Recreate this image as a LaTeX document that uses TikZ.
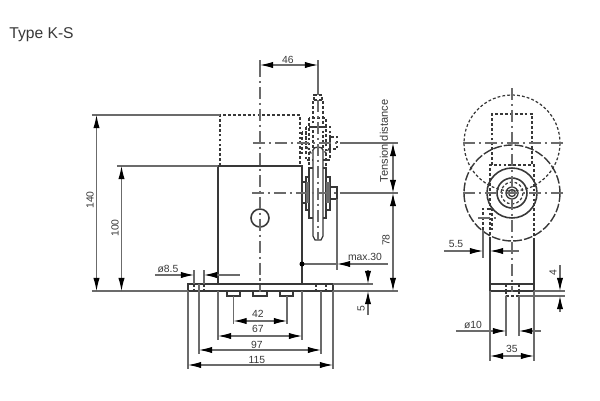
\documentclass[tikz,border=0pt]{standalone}
\usepackage{fontspec}
\setmainfont{Liberation Sans}
\usetikzlibrary{arrows.meta}
\definecolor{dimgray}{gray}{0.42}
\definecolor{bodygray}{gray}{0.22}
\tikzset{
    >={Latex[length=7.5pt,width=3.6pt,black]},
    body/.style={draw=bodygray, line width=0.75pt},
    hidden/.style={draw=bodygray, line width=0.7pt, dash pattern=on 1.6pt off 1.2pt},
    longdash/.style={draw=bodygray, line width=0.8pt, dash pattern=on 5pt off 1.2pt},
    axis/.style={draw=dimgray, line width=0.7pt, dash pattern=on 7pt off 2pt on 1.5pt off 2pt},
    dim/.style={draw=dimgray, line width=0.6pt},
    dimtext/.style={text=bodygray, font=\fontsize{5.9}{6}\selectfont, inner sep=0pt},
    rollersteps/.pic={
        \draw[pic actions] (-16,-11) rectangle (-12,10);
        \draw[pic actions] (12,-6) rectangle (19,6);
        \draw[pic actions] (-12,-16) rectangle (12,17);
        \draw[pic actions] (-9,-25) rectangle (8,25);
    }
}
\begin{document}
\begin{tikzpicture}[x=0.02cm, y=-0.02cm]
    \useasboundingbox (0,0) rectangle (600,400);

    \node[anchor=west, inner sep=0pt, text=bodygray, font=\fontsize{8.9}{10}\selectfont] (title) at (9,35) {Type K-S};

    % housing, front view
    \draw[hidden] (220,166) -- (220,115) -- (300,115) -- (300,166);
    \draw[body] (218,284) -- (218,166) -- (302,166) -- (302,284);
    \draw[body] (188,284) rectangle (333,291);
    \draw[body] (227,291) rectangle (240,296);
    \draw[body] (253,291) rectangle (267,296);
    \draw[body] (280,291) rectangle (293,296);
    \draw[body, line width=0.9pt] (260,218) circle (9);
    \foreach \xhole in {194,204,316,326}
        \draw[hidden] (\xhole,284) -- (\xhole,291);

    % roller, upper position
    \pic[hidden] at (318,143) {rollersteps};
    \draw[hidden] (314,100) -- (314,95) -- (322,95) -- (322,100);
    \draw[hidden] (313,148) -- (313,100) -- (323,100) -- (323,148);
    \draw[hidden] (307,147) -- (311,153) -- (315,148);
    \draw[hidden] (321,148) -- (326,153) -- (330,147);

    % roller, lower position
    \pic[body, fill=white] at (318,193) {rollersteps};
    \fill[bodygray!75] (306,182) rectangle (309,203);
    \fill[bodygray!75] (326,182) rectangle (330,203);
    \draw[body, fill=white] (313,150) to[out=90,in=90] (323,150) -- (323,236) -- (321,240) -- (315,240) -- (313,236) -- cycle;

    % axes
    \draw[axis] (260,65) -- (260,292);
    \draw[axis] (253,143) -- (340,143);
    \draw[axis] (252,193) -- (340,193);
    \draw[axis] (318,100) -- (318,240);

    % extension lines, front view
    \draw[dim] (92,115) -- (220,115);
    \draw[dim] (117,166) -- (218,166);
    \draw[dim] (92,291) -- (188,291);
    \draw[dim] (333,291) -- (398,291);
    \draw[dim] (333,284) -- (373,284);
    \draw[dim] (318,60) -- (318,95);
    \draw[dim] (260,60) -- (260,70);
    \draw[dim] (340,143) -- (398,143);
    \draw[dim] (340,193) -- (398,193);
    \draw[dim] (337,199) -- (337,270);
    \draw[dim] (188,291) -- (188,369);
    \draw[dim] (199,284) -- (199,354);
    \draw[dim] (218,291) -- (218,340);
    \draw[dim] (302,291) -- (302,340);
    \draw[dim] (321,291) -- (321,354);
    \draw[dim] (333,291) -- (333,369);
    \draw[dim] (233.5,296) -- (233.5,324);
    \draw[dim] (287,296) -- (287,324);
    \draw[dim] (194,270) -- (194,284);
    \draw[dim] (204,270) -- (204,284);

    % dimensions, front view
    \draw[dim, <->] (260,65) -- (318,65);
    \draw[dim, <->] (96.5,115) -- (96.5,291);
    \draw[dim, <->] (121.5,166) -- (121.5,291);
    \draw[dim, <->] (393,143) -- (393,193);
    \draw[dim, <->] (393,193) -- (393,291);
    \draw[dim, <->] (233.5,321) -- (287,321);
    \draw[dim, <->] (218,336) -- (302,336);
    \draw[dim, <->] (199,350) -- (321,350);
    \draw[dim, <->] (188,365) -- (333,365);
    \draw[dim, ->] (155,275) -- (194,275);
    \draw[dim, ->] (240,275) -- (204,275);
    \draw[dim, ->] (388,264) -- (337,264);
    \draw[dim] (337,264) -- (302,264);
    \fill[black] (302,264) circle (2.5);
    \draw[dim, ->] (368,270) -- (368,284);
    \draw[dim, ->] (368,315) -- (368,291);

    \node[dimtext] (l46) at (288,60) {46};
    \node[dimtext, rotate=90] (l140) at (90,200) {140};
    \node[dimtext, rotate=90] (l100) at (115,228) {100};
    \node[dimtext, rotate=90, font=\fontsize{6.3}{7}\selectfont] (ltension) at (384,141) {Tension distance};
    \node[dimtext, rotate=90] (l78) at (386,240) {78};
    \node[dimtext] (lmax) at (365,257) {max.30};
    \node[dimtext, rotate=90] (l5) at (361,309) {5};
    \node[dimtext] (ld85) at (168,269) {ø8.5};
    \node[dimtext] (l42) at (258,314) {42};
    \node[dimtext] (l67) at (258,329) {67};
    \node[dimtext] (l97) at (257,345) {97};
    \node[dimtext] (l115) at (257,360) {115};

    % side view
    \draw[hidden] (512,143) circle (48);
    \draw[longdash] (512,193) circle (48);
    \draw[hidden] (492,165) -- (492,114) -- (532,114) -- (532,165);
    \draw[hidden] (490,240) -- (490,165) -- (534,165) -- (534,240);
    \draw[body] (490,240) -- (490,284);
    \draw[body] (534,240) -- (534,284);
    \draw[body, line width=0.9pt] (512,193) circle (25);
    \draw[body, line width=0.9pt] (512,193) circle (15);
    \draw[hidden] (512,193) circle (11);
    \draw[body] (512,193) circle (6);
    \draw[body] (512,193) circle (3.5);
    \draw[hidden] (483,230) -- (483,209) -- (492,209) -- (492,230);
    \draw[axis] (478,218) -- (497,218);
    \draw[body] (490,284) rectangle (534,291);
    \draw[hidden] (506,291) rectangle (519,296);
    \draw[hidden] (506,284) -- (506,291);
    \draw[hidden] (519,284) -- (519,291);
    \draw[axis] (512,88) -- (512,292);
    \draw[axis] (463,143) -- (563,143);
    \draw[axis] (463,193) -- (563,193);

    % dimensions, side view
    \draw[dim] (483,230) -- (483,258);
    \draw[dim] (534,291) -- (565,291);
    \draw[dim] (519,296) -- (565,296);
    \draw[dim] (506,296) -- (506,336);
    \draw[dim] (519,296) -- (519,336);
    \draw[dim] (490,291) -- (490,361);
    \draw[dim] (534,291) -- (534,361);
    \draw[dim, ->] (444,251) -- (483,251);
    \draw[dim, ->] (519,251) -- (490,251);
    \draw[dim, ->] (560,265) -- (560,291);
    \draw[dim, ->] (560,312) -- (560,296);
    \draw[dim, ->] (456,331) -- (506,331);
    \draw[dim, ->] (541,331) -- (519,331);
    \draw[dim, <->] (490,356) -- (534,356);

    \node[dimtext] (l55) at (456,244) {5.5};
    \node[dimtext, rotate=90] (l4) at (553,273) {4};
    \node[dimtext] (ld10) at (473,325) {ø10};
    \node[dimtext] (l35) at (512,349) {35};
\end{tikzpicture}
\end{document}
